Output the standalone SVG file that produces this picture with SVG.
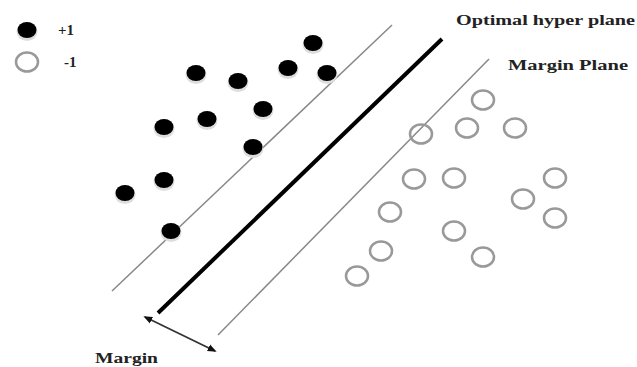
<svg xmlns="http://www.w3.org/2000/svg" width="637" height="367" viewBox="0 0 637 367">
<defs>
<marker id="ah" viewBox="0 0 10 10" refX="8" refY="5" markerWidth="5" markerHeight="5" orient="auto-start-reverse">
<path d="M0,1 L10,5 L0,9 z" fill="#111"/>
</marker>
<g id="pos"><ellipse cx="0" cy="1.5" rx="10.5" ry="9.5" fill="#ddd"/><ellipse cx="0" cy="0" rx="9.5" ry="8" fill="#000"/></g>
<g id="neg"><ellipse cx="0" cy="0" rx="11" ry="9.5" fill="none" stroke="#999" stroke-width="2.5"/></g>
</defs>
<style>
.lbl{font-family:"Liberation Serif",serif;font-weight:bold;fill:#222}
.mp{stroke:#888;stroke-width:1.5;fill:none}
</style>
<rect width="637" height="367" fill="#fff"/>
<g id="legend">
<use href="#pos" x="27" y="30"/>
<text class="lbl" x="58" y="35" font-size="15" fill="#444">+1</text>
<use href="#neg" x="27" y="62"/>
<text class="lbl" x="64" y="67" font-size="15" fill="#444">-1</text>
</g>
<g id="connectors">
<line id="upper-margin" class="mp" x1="112" y1="291" x2="392" y2="25"/>
<line id="optimal" x1="158" y1="313" x2="442" y2="39" stroke="#000" stroke-width="4"/>
<line id="lower-margin" class="mp" x1="218" y1="335" x2="489" y2="59"/>
<line id="margin-arrow" x1="145" y1="317" x2="215" y2="351" stroke="#333" stroke-width="1.8" marker-start="url(#ah)" marker-end="url(#ah)"/>
</g>
<g id="positives">
<use href="#pos" x="313" y="43"/>
<use href="#pos" x="196" y="73"/>
<use href="#pos" x="238" y="81"/>
<use href="#pos" x="288" y="68"/>
<use href="#pos" x="327" y="73"/>
<use href="#pos" x="263" y="109"/>
<use href="#pos" x="207" y="119"/>
<use href="#pos" x="164" y="127"/>
<use href="#pos" x="253" y="147"/>
<use href="#pos" x="164" y="180"/>
<use href="#pos" x="125" y="193"/>
<use href="#pos" x="171" y="231"/>
</g>
<g id="negatives">
<use href="#neg" x="483" y="100"/>
<use href="#neg" x="467" y="128"/>
<use href="#neg" x="515" y="128"/>
<use href="#neg" x="421" y="134"/>
<use href="#neg" x="414" y="179"/>
<use href="#neg" x="454" y="178"/>
<use href="#neg" x="555" y="178"/>
<use href="#neg" x="523" y="199"/>
<use href="#neg" x="555" y="218"/>
<use href="#neg" x="390" y="212"/>
<use href="#neg" x="454" y="231"/>
<use href="#neg" x="381" y="251"/>
<use href="#neg" x="483" y="257"/>
<use href="#neg" x="357" y="276"/>
</g>
<g id="labels">
<text class="lbl" x="456" y="25" font-size="14" textLength="179" lengthAdjust="spacingAndGlyphs">Optimal hyper plane</text>
<text class="lbl" x="508" y="70" font-size="14" textLength="120" lengthAdjust="spacingAndGlyphs">Margin Plane</text>
<text class="lbl" x="95" y="363" font-size="14" textLength="63" lengthAdjust="spacingAndGlyphs">Margin</text>
</g>
</svg>
